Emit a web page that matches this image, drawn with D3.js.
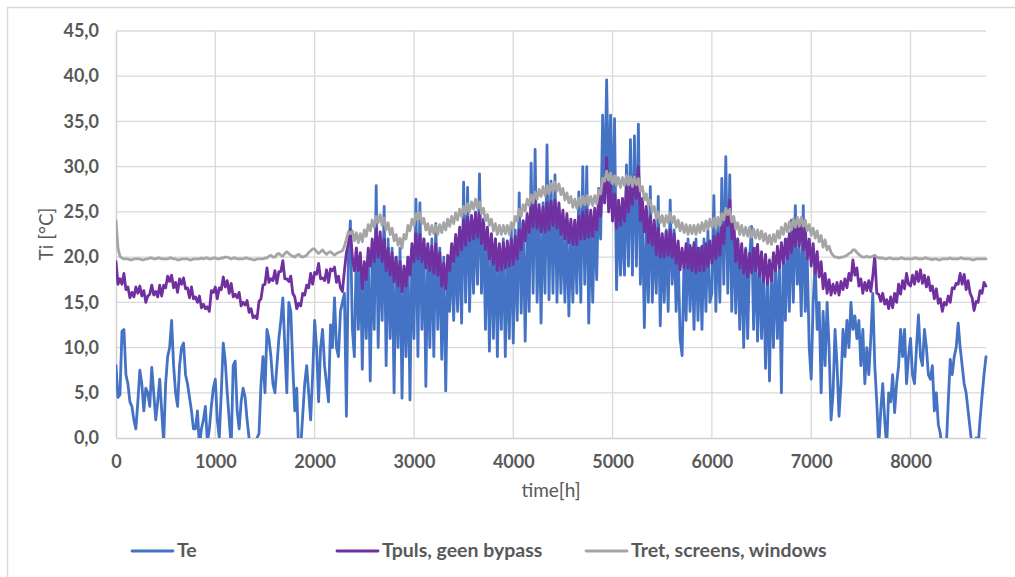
<!DOCTYPE html>
<html><head><meta charset="utf-8">
<script src="https://cdn.jsdelivr.net/npm/d3@7"></script>
<style>html,body{margin:0;padding:0;background:#fff;}svg{display:block;}</style>
</head><body>
<svg id="chart" width="1015" height="577"></svg>
<script>
// ---- DATA (hourly simulation, read every 20 h; one row = 400 h) ----
const stepHours = 20;
const xTicks = [0,1000,2000,3000,4000,5000,6000,7000,8000];
const yTicks = [0,5,10,15,20,25,30,35,40,45];
const seriesNames = ["Te", "Tpuls, geen bypass", "Tret, screens, windows"];

const te = [
  8,4.5,4.8,11.8,12,7,6,4,3.5,2,1,4,7.5,6,3,5.5,5,3.5,7.8,5,
  2,4,6.5,3,-0.5,6,9,10,13,8,5,3.5,8,10,10.5,7,6,4.5,3,1,
  1,3,-1,1,2,3.5,-0.5,1,3.5,5.5,6.5,2,0,5,10.5,8.5,5,2,-1,8,
  8.5,3,1,4,5.5,4.5,2,0,-2,-1,-1.5,0,0.5,6,9,5,12,11,9,6,
  5,8,11,13,15.5,10,5,15,14,8,3,5.5,-2,-1,2.5,6,8,5,2,7,
  13,10,4,10,12,8,6,4,12.5,10,15.5,10,9,14,15,16,2.4,20,24,12,
  9,21,12,20,7.6,19,11,20,6.3,21,12,27.9,10,22,13,25.6,8,22,11,21,
  5,20,10,21,4.4,19,9,20,4.2,21,11,26.4,9,26,12,22,5.7,21,10,22,
  9,23.7,12,21,8.7,20,5.2,19,14,21,13,22,14,23,12.7,28.3,15,27.7,14,24,
  16,25,17,29.2,16,24,12,23,9.6,22,11,22,9,21,12,22,9,21,11,23,
  10.5,23,13,27.1,13.8,24,10.7,23,14,30.4,16,31.9,15,25,12.7,26,16,32.4,15.3,28.4,
  16,29.1,15,25,16,24,15,24,13.5,23,15,24,16,27.2,15,30,17,30,12.7,24,
  15,25,17.5,27.6,22,35.7,26,39.6,27,35.7,24,35.3,16.4,26,18,25,18,30.2,19,33,
  18,33.4,19,34.7,17,25,12.2,24,15,27.8,15,23,16,26.7,12.4,22,15,23,14,26.3,
  17,23,14,21,11,9.1,20,13,22,14,21,12,22,13,21,12,22,14,23,15,
  16,26.8,14,24,15,28.7,17,31.1,16,29.1,14,24,13.8,22,12,21,10,21,11,20,
  23.4,12,21,10.7,20,11,19,7.7,18,6.3,19,10,20,11,19,5,21,13,22,14,
  24.1,15,25.7,17,21,13.5,25.7,14,20,10,6.5,15,19.6,12,15,5,14,8,15,10,
  2,5,12,8,2.4,6,12,9,13,10,15,12,13.5,11,13,8,12,6,10,7,
  11,16,8,4,-1,3,6,2,-1,5,4,7,2.8,6,8,12,9,12,6,9,
  11,7,6,10,13.6,9,8,12,10,7,6.5,8,3,5,1.5,0.5,-1.5,-0.5,-1,4,
  8.7,7,9,10,12.7,10,8,6,5,3,1,-1,-1.5,0,-1,2,4.6,7,9
];

const tpuls = [
  19.5,17.0,17.6,17.0,18.2,16.4,16.7,15.5,16.1,15.6,16.7,16.0,16.8,15.7,16.3,15.0,15.7,15.9,16.9,15.8,
  16.2,15.6,16.9,15.7,16.9,16.6,17.9,17.3,18.0,16.6,17.2,16.1,17.6,17.0,17.7,16.5,16.6,15.5,16.7,15.4,
  15.6,15.0,15.7,14.4,14.8,14.3,14.5,14.0,16.3,16.1,16.7,15.4,16.6,16.4,17.8,16.7,17.4,16.0,17.1,15.6,
  15.9,15.5,16.1,14.6,15.0,14.7,15.2,13.9,14.3,13.3,13.5,13.2,15.1,15.4,16.9,17.0,18.8,17.2,17.6,17.4,
  18.5,17.1,18.4,18.4,19.6,17.6,17.6,17.3,17.9,16.0,15.6,14.3,14.9,14.6,16.0,15.8,16.9,16.6,18.2,17.0,
  18.3,18.1,19.3,17.6,17.7,17.4,18.6,17.2,18.7,18.5,18.9,17.2,17.9,16.6,16.2,18.5,20.5,21.5,23.0,20.0,
  18.5,21.0,18.5,20.5,16.5,19.5,17.5,21.0,19.0,22.0,19.5,23.2,20.0,22.8,19.5,22.0,18.5,21.0,18.0,20.5,
  17.3,20.0,16.8,19.5,16.2,19.0,16.8,20.0,18.0,21.5,19.5,22.6,19.8,22.5,19.5,22.0,18.8,21.5,18.5,21.2,
  18.2,21.5,18.0,20.5,16.8,19.3,16.5,20.2,18.5,21.5,19.5,22.5,20.2,23.3,20.8,24.1,21.3,24.4,21.8,24.6,
  22.0,24.9,22.2,25.0,21.5,24.2,20.8,23.3,19.8,22.6,19.2,22.0,18.5,21.5,18.6,21.6,18.8,21.8,19.0,22.0,
  19.2,22.3,19.8,23.0,20.8,24.0,21.8,24.8,22.7,25.8,23.3,26.3,23.2,25.8,22.8,25.5,22.8,26.0,23.0,26.2,
  23.5,26.3,23.2,26.0,22.5,25.2,22.0,24.8,21.6,24.2,21.4,24.1,21.4,24.5,22.0,25.0,22.0,25.2,22.2,25.2,
  22.3,25.4,23.0,26.5,24.5,28.5,26.0,31.0,25.0,28.0,24.0,27.0,23.2,26.3,23.5,26.5,24.0,27.8,25.0,28.0,
  25.8,29.0,26.5,30.0,24.0,26.5,22.8,25.6,21.6,24.5,21.3,24.1,20.3,23.2,20.0,22.6,20.0,22.8,20.2,23.0,
  20.0,22.6,19.3,21.8,18.6,21.0,18.8,21.5,18.8,21.3,18.5,21.6,18.3,21.0,18.5,21.2,18.5,21.5,19.0,21.8,
  19.3,22.3,19.8,22.6,20.2,23.5,21.5,24.8,23.5,26.3,22.0,24.0,19.5,22.0,18.8,21.5,18.2,20.8,17.8,20.4,
  18.3,21.0,18.5,21.4,17.9,20.6,17.3,20.3,17.0,19.7,17.4,20.5,18.5,21.2,18.8,21.6,19.3,22.0,19.8,22.6,
  20.5,23.5,21.2,24.2,21.2,24.0,20.8,23.2,19.8,22.0,19.0,21.5,18.2,20.6,17.8,19.5,16.5,18.2,16.0,17.5,
  15.8,17.0,16.0,17.2,15.8,17.3,16.4,17.6,16.6,18.2,17.4,19.7,18.0,18.8,16.8,17.6,16.0,17.2,16.3,17.4,
  16.2,17.9,20.2,16.0,15.9,15.1,16.0,14.8,15.3,14.3,15.6,14.4,16.0,15.0,17.0,15.9,17.4,16.5,18.2,17.0,
  16.8,18.0,17.0,18.4,17.3,18.6,17.1,18.0,16.7,17.8,16.3,16.8,15.4,16.5,14.9,15.4,14.0,15.0,14.7,15.7,
  15.0,16.6,16.5,17.1,17.0,18.2,17.0,18.1,16.4,17.4,16.0,15.5,14.1,15.1,15.0,16.3,16.0,17.2,16.8
];

const tret = [
  24,21.0,20.1,19.9,19.8,19.8,19.8,19.7,19.7,19.8,19.8,19.8,19.8,19.7,19.7,19.8,19.8,19.9,19.9,19.8,
  19.8,19.9,19.9,19.8,19.8,19.8,19.8,19.9,19.9,19.8,19.8,19.7,19.7,19.8,19.8,19.8,19.8,19.7,19.7,19.8,
  19.8,19.8,19.8,19.9,19.8,19.9,19.9,19.8,19.8,19.9,19.9,19.8,19.8,19.9,19.9,20.0,20.0,19.9,19.8,19.9,
  19.9,19.8,19.8,19.8,19.8,19.9,19.9,19.8,19.8,19.7,19.7,19.8,19.8,19.8,19.8,19.9,19.9,20.1,20.2,20.0,
  20.0,20.3,20.4,20.2,20.1,20.4,20.6,20.4,20.2,20.1,20.0,20.2,20.3,20.1,20.0,20.1,20.2,20.5,20.7,20.9,
  20.9,20.6,20.4,20.6,20.8,20.5,20.3,20.5,20.6,20.4,20.2,20.4,20.5,20.6,20.7,21.2,22.0,22.8,22.6,22.9,
  21.8,22.7,21.6,22.6,21.7,23.0,22.3,23.6,22.9,24.1,23.3,24.5,23.8,24.7,23.5,24.3,23.0,23.8,22.5,23.2,
  21.8,22.5,21.3,22.1,21.0,22.5,22.0,23.5,22.9,24.2,23.5,24.8,24.1,24.9,23.7,24.3,23.0,23.7,22.5,23.5,
  22.6,23.5,22.5,23.6,22.7,23.8,23.0,24.2,23.4,24.5,23.7,24.9,24.1,25.3,24.5,25.6,24.8,25.9,25.0,26.1,
  25.3,26.4,25.4,26.1,24.8,25.4,24.0,24.7,23.5,24.2,22.9,23.7,22.5,23.5,22.5,23.5,22.6,23.5,22.5,23.8,
  23.1,24.5,24.0,25.3,24.5,25.8,25.1,26.4,25.7,26.9,26.0,27.2,26.4,27.5,26.7,27.8,26.8,27.9,27.0,28.1,
  27.2,28.3,27.3,28.1,26.9,27.6,26.3,27.1,26.0,26.7,25.5,26.4,25.4,26.5,25.6,26.7,25.8,26.8,25.8,26.7,
  25.7,26.8,25.9,27.4,27.0,28.7,28.4,29.5,28.5,29.3,28.1,29.0,27.9,28.8,27.7,28.8,27.9,29.0,28.0,28.9,
  27.8,28.9,28.0,28.7,27.3,27.8,26.3,27.0,25.7,26.3,25.0,25.6,24.3,25.0,23.8,24.6,23.4,24.6,23.8,24.9,
  23.8,24.5,23.3,24.1,22.9,23.8,22.7,23.6,22.5,23.5,22.6,23.5,22.5,23.6,22.7,23.8,22.9,24.0,23.1,24.2,
  23.3,24.3,23.2,24.4,23.5,24.8,24.1,25.4,24.7,25.3,23.9,24.5,23.1,23.8,22.5,23.5,22.4,23.3,22.3,23.3,
  22.2,23.1,22.1,23.0,22.0,22.9,21.8,22.6,21.5,22.4,21.4,22.5,21.7,22.9,22.1,23.3,22.5,23.7,22.8,23.9,
  23.0,24.2,23.3,24.4,23.4,24.4,23.4,24.1,22.9,23.6,22.4,23.2,22.1,22.9,21.7,22.4,21.1,21.9,20.8,21.2,
  20.5,20.2,20.0,20.0,19.9,20.0,20.0,20.1,20.2,20.4,20.5,20.8,20.8,20.5,20.3,20.1,20.0,20.0,20.1,20.0,
  20.0,20.1,20.2,20.0,19.9,19.9,19.9,19.8,19.8,19.9,19.9,19.8,19.8,19.8,19.8,19.9,19.9,19.8,19.8,19.8,
  19.8,19.8,19.9,19.9,19.8,19.8,19.8,19.9,19.9,19.8,19.8,19.7,19.8,19.8,19.7,19.7,19.8,19.8,19.8,19.8,
  19.9,19.8,19.8,19.8,19.8,19.9,19.9,19.8,19.8,19.8,19.8,19.7,19.7,19.8,19.8,19.8,19.8,19.8,19.8
];

// ---- STYLE ----
const colors = ["#4472C4", "#7030A0", "#A5A5A5"];
const textColor = "#595959";
const gridColor = "#D9D9D9";
const fontFamily = "Lato, 'Open Sans', sans-serif";

const svg = d3.select("#chart");
svg.append("rect").attr("width",1015).attr("height",577).attr("fill","#fff");

// outer chart border (only top & left visible)
svg.append("path").attr("d","M7.5,577V7.5H1015").attr("fill","none")
  .attr("stroke",gridColor).attr("stroke-width",1.5);

const plot = {left:116, right:986, top:31, bottom:438};
const x = d3.scaleLinear().domain([0,8760]).range([plot.left, plot.right]);
const y = d3.scaleLinear().domain([0,45]).range([plot.bottom, plot.top]);

// gridlines
const grid = svg.append("g");
grid.selectAll("line.h").data(yTicks.slice(1)).join("line")
  .attr("x1",plot.left).attr("x2",plot.right)
  .attr("y1",d=>y(d)).attr("y2",d=>y(d))
  .attr("stroke",gridColor).attr("stroke-width",1.3);
grid.selectAll("line.v").data(xTicks.slice(1)).join("line")
  .attr("x1",d=>x(d)).attr("x2",d=>x(d))
  .attr("y1",plot.top).attr("y2",plot.bottom)
  .attr("stroke",gridColor).attr("stroke-width",1.3);

// axes
const fmt = d => d.toFixed(1).replace(".", ",");
const yAxis = svg.append("g").attr("transform",`translate(${plot.left},0)`)
  .call(d3.axisLeft(y).tickValues(yTicks).tickFormat(fmt).tickSize(0).tickPadding(17));
const xAxis = svg.append("g").attr("transform",`translate(0,${plot.bottom})`)
  .call(d3.axisBottom(x).tickValues(xTicks).tickFormat(d=>String(d)).tickSize(0).tickPadding(17));
[yAxis,xAxis].forEach(a=>{
  a.select(".domain").attr("stroke","#D0D0D0").attr("stroke-width",1.5);
  a.selectAll("text").attr("fill",textColor).attr("font-family",fontFamily)
    .attr("font-weight","bold").attr("font-size",18);
});

// series
const clipId = "plotClip";
svg.append("clipPath").attr("id",clipId).append("rect")
  .attr("x",plot.left).attr("y",plot.top-5)
  .attr("width",plot.right-plot.left+3).attr("height",plot.bottom-plot.top+5);
const line = d3.line().x((d,i)=>x(i*stepHours)).y(d=>y(d));
const gSeries = svg.append("g").attr("clip-path",`url(#${clipId})`);
[te,tpuls,tret].forEach((s,k)=>{
  gSeries.append("path").datum(s).attr("d",line).attr("fill","none")
    .attr("stroke",colors[k]).attr("stroke-width",2.8)
    .attr("stroke-linejoin","round").attr("stroke-linecap","round");
});

// axis titles
svg.append("text").attr("x",551).attr("y",497).attr("text-anchor","middle")
  .attr("fill",textColor).attr("font-family",fontFamily).attr("font-size",19)
  .text("time[h]");
svg.append("text").attr("transform","translate(53,234) rotate(-90)").attr("text-anchor","middle")
  .attr("fill",textColor).attr("font-family",fontFamily).attr("font-size",19)
  .text("Ti [°C]");

// legend
const legendX = [132, 337, 586];
const lg = svg.append("g");
seriesNames.forEach((n,k)=>{
  lg.append("line").attr("x1",legendX[k]).attr("x2",legendX[k]+41)
    .attr("y1",551).attr("y2",551).attr("stroke",colors[k]).attr("stroke-width",2.8)
    .attr("stroke-linecap","round");
  lg.append("text").attr("x",legendX[k]+45).attr("y",557)
    .attr("fill",textColor).attr("font-family",fontFamily).attr("font-weight","bold")
    .attr("font-size",19.5).text(n);
});
</script>
</body></html>
